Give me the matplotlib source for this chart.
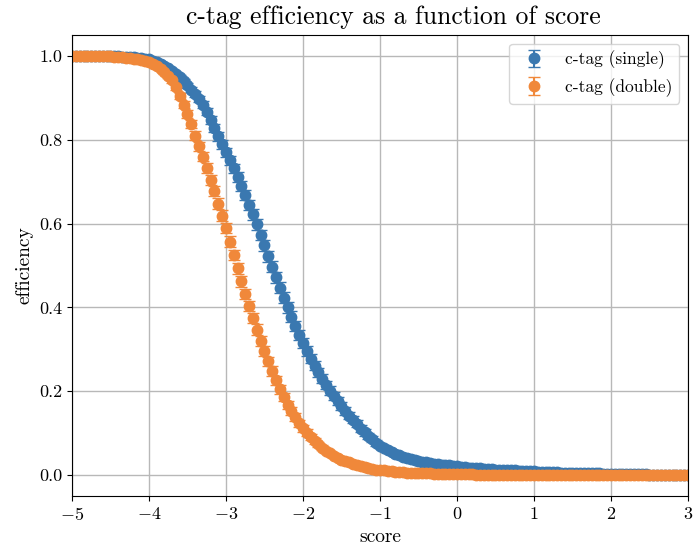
import numpy as np
import matplotlib
matplotlib.use("Agg")
import matplotlib.pyplot as plt

plt.rcParams['font.family'] = ['cmr10', 'DejaVu Serif']
plt.rcParams['mathtext.fontset'] = 'cm'
plt.rcParams['axes.formatter.use_mathtext'] = True
plt.rcParams['axes.unicode_minus'] = True

# score grid, step 0.05 from -5 to 3
score = np.round(np.arange(-5.0, 3.0001, 0.05), 2)

eff_single = [
    1.000, 1.000, 1.000, 1.000, 1.000, 1.000, 1.000, 1.000, 0.999, 0.999,
    0.999, 0.999, 0.999, 0.998, 0.998, 0.997, 0.997, 0.996, 0.995, 0.993,
    0.992, 0.989, 0.986, 0.982, 0.977, 0.971, 0.965, 0.957, 0.949, 0.940,
    0.930, 0.920, 0.909, 0.897, 0.884, 0.867, 0.848, 0.828, 0.808, 0.789,
    0.770, 0.751, 0.732, 0.711, 0.690, 0.668, 0.645, 0.622, 0.598, 0.573,
    0.548, 0.522, 0.497, 0.472, 0.447, 0.423, 0.400, 0.378, 0.356, 0.335,
    0.315, 0.296, 0.278, 0.261, 0.245, 0.230, 0.215, 0.201, 0.188, 0.176,
    0.164, 0.153, 0.142, 0.132, 0.122, 0.111, 0.102, 0.093, 0.085, 0.077,
    0.070, 0.064, 0.059, 0.055, 0.051, 0.047, 0.044, 0.041, 0.038, 0.036,
    0.034, 0.032, 0.030, 0.028, 0.027, 0.026, 0.025, 0.024, 0.023, 0.022,
    0.021,
    0.020, 0.019, 0.018, 0.018, 0.017, 0.016, 0.015, 0.015, 0.014, 0.013,
    0.013, 0.012, 0.012, 0.011, 0.011, 0.010, 0.010, 0.009, 0.009, 0.009,
    0.008, 0.008, 0.008, 0.007, 0.007, 0.007, 0.006, 0.006, 0.006, 0.005,
    0.005, 0.005, 0.005, 0.004, 0.004, 0.004, 0.004, 0.003, 0.003, 0.003,
    0.003, 0.003, 0.002, 0.002, 0.002, 0.002, 0.002, 0.002, 0.002, 0.001,
    0.001, 0.001, 0.001, 0.001, 0.001, 0.001, 0.001, 0.001, 0.001, 0.001,
]

eff_double = [
    1.000, 1.000, 1.000, 1.000, 1.000, 1.000, 1.000, 0.999, 0.999, 0.999,
    0.999, 0.998, 0.998, 0.997, 0.996, 0.995, 0.994, 0.992, 0.990, 0.988,
    0.985, 0.981, 0.976, 0.970, 0.963, 0.953, 0.942, 0.925, 0.905, 0.884,
    0.862, 0.837, 0.810, 0.785, 0.760, 0.733, 0.705, 0.677, 0.648, 0.619,
    0.590, 0.557, 0.525, 0.493, 0.462, 0.432, 0.403, 0.375, 0.347, 0.320,
    0.295, 0.271, 0.248, 0.226, 0.205, 0.186, 0.168, 0.152, 0.138, 0.124,
    0.112, 0.101, 0.090, 0.081, 0.073, 0.065, 0.058, 0.052, 0.046, 0.041,
    0.037, 0.033, 0.030, 0.027, 0.024, 0.021, 0.019, 0.017, 0.015, 0.013,
    0.012, 0.011, 0.010, 0.009, 0.008, 0.007, 0.007, 0.006, 0.006, 0.005,
    0.005, 0.004, 0.004, 0.004, 0.003, 0.003, 0.003, 0.003, 0.002, 0.002,
    0.002,
    0.002, 0.002, 0.002, 0.002, 0.001, 0.001, 0.001, 0.001, 0.001, 0.001,
    0.001, 0.001, 0.001, 0.001, 0.001, 0.001, 0.001, 0.001, 0.001, 0.001,
    0.001, 0.001, 0.001, 0.001, 0.001, 0.000, 0.000, 0.000, 0.000, 0.000,
    0.000, 0.000, 0.000, 0.000, 0.000, 0.000, 0.000, 0.000, 0.000, 0.000,
    0.000, 0.000, 0.000, 0.000, 0.000, 0.000, 0.000, 0.000, 0.000, 0.000,
    0.000, 0.000, 0.000, 0.000, 0.000, 0.000, 0.000, 0.000, 0.000, 0.000,
]

labels = ['c-tag (single)', 'c-tag (double)']
colors = ['#3a78b0', '#f0883a']
n_events = 1500  # binomial errors

eff_single = np.array(eff_single)
eff_double = np.array(eff_double)
err_single = np.sqrt(eff_single * (1 - eff_single) / n_events)
err_double = np.sqrt(eff_double * (1 - eff_double) / n_events)

fig = plt.figure(figsize=(6.97, 5.48), dpi=100)
ax = fig.add_axes([0.1033, 0.0949, 0.8837, 0.8411])
ax.grid(True, color='#b8b8b8', linewidth=1.0, zorder=0)
ax.set_axisbelow(True)

ax.errorbar(score, eff_single, yerr=err_single, fmt='o', markersize=7.5,
            capsize=4.5, color=colors[0], label=labels[0])
ax.errorbar(score, eff_double, yerr=err_double, fmt='o', markersize=7.5,
            capsize=4.5, color=colors[1], label=labels[1])

ax.set_xlim(-5, 3)
ax.set_ylim(-0.05, 1.05)
ax.set_xticks(np.arange(-5, 4, 1))
ax.set_yticks([0.0, 0.2, 0.4, 0.6, 0.8, 1.0])
ax.set_yticklabels(['0.0', '0.2', '0.4', '0.6', '0.8', '1.0'])
ax.tick_params(labelsize=13)
ax.set_xlabel('score', fontsize=14)
ax.set_ylabel('efficiency', fontsize=14)
ax.set_title('c-tag efficiency as a function of score', fontsize=18.5, pad=8, x=0.522)
ax.legend(loc='upper right', fontsize=12.5)

fig.savefig('out.png', dpi=100)
